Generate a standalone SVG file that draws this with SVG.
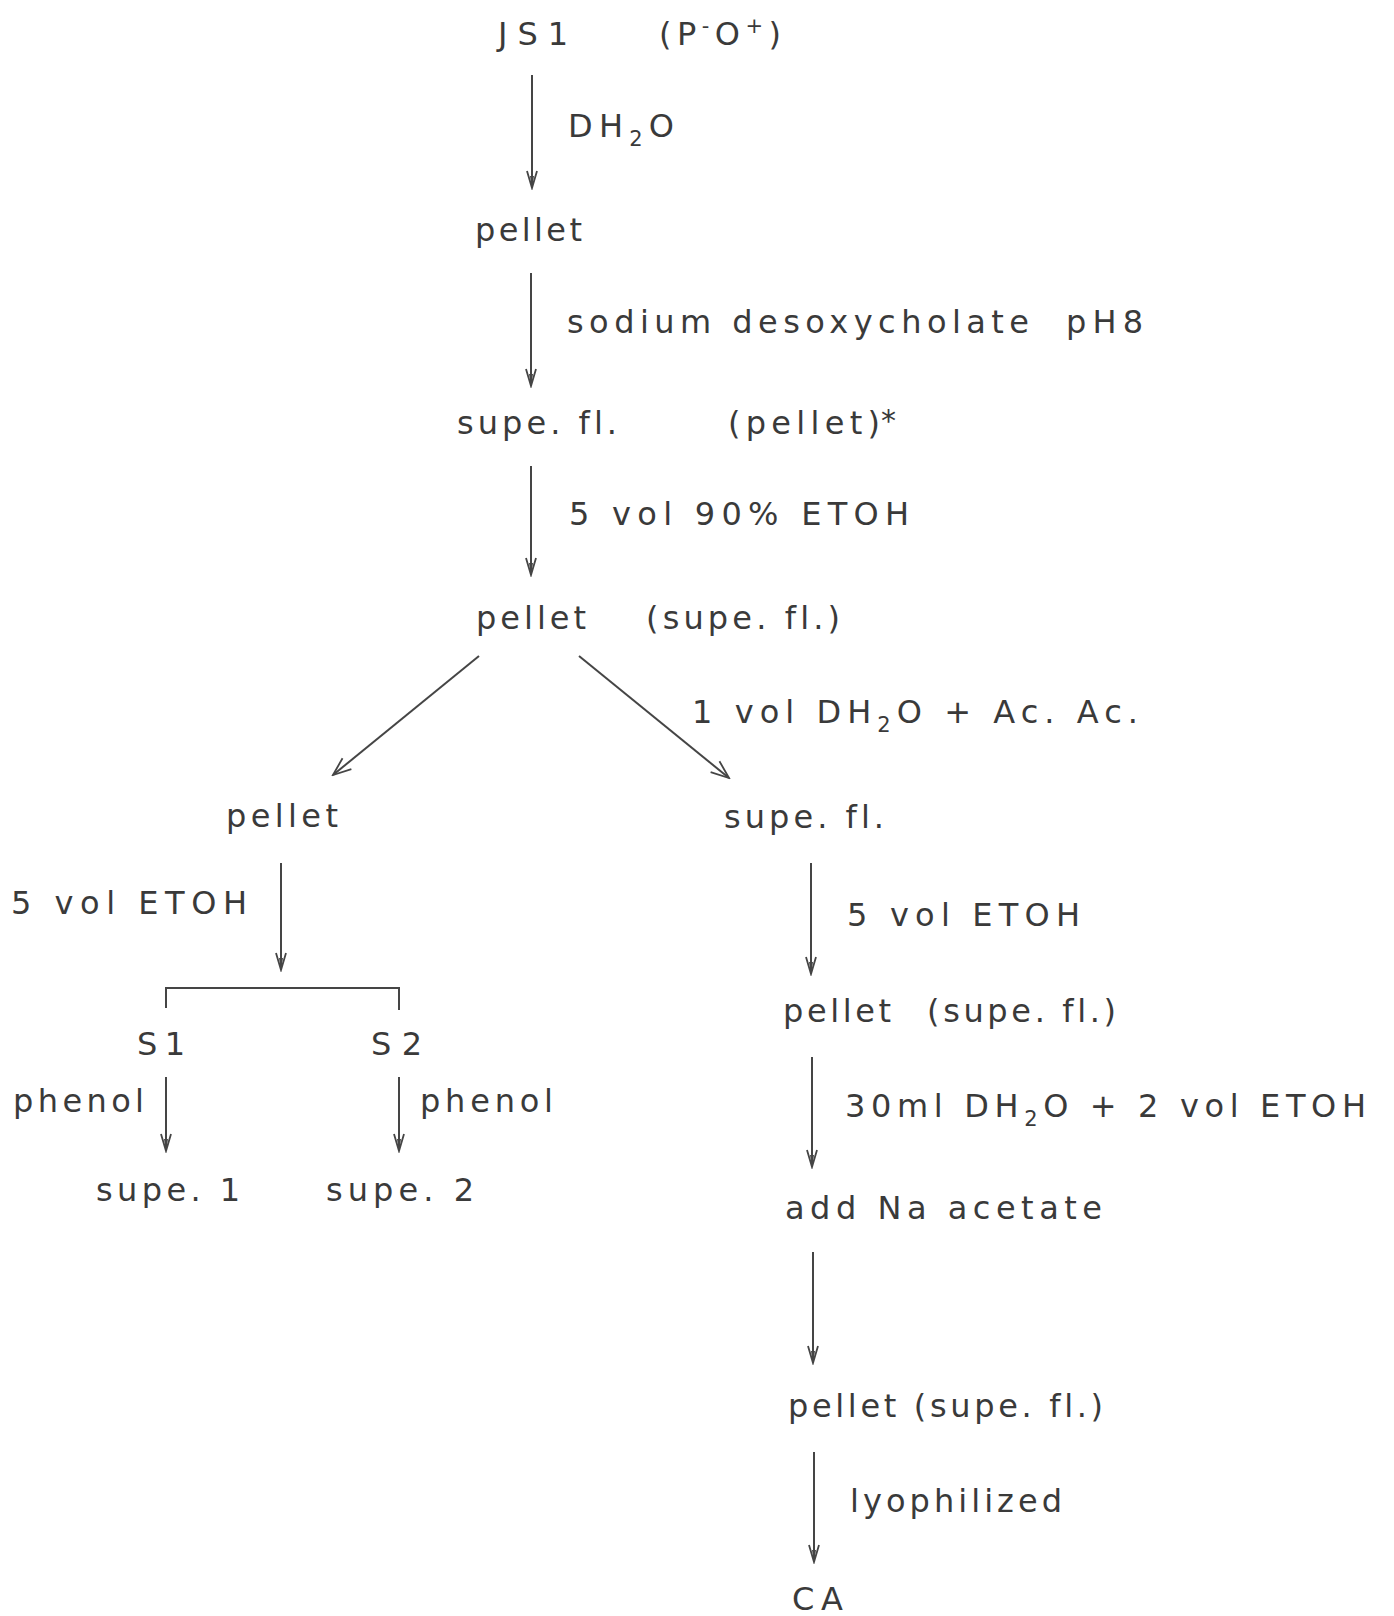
<svg xmlns="http://www.w3.org/2000/svg" width="1394" height="1616" viewBox="0 0 1394 1616">
  <defs>
    <style>
      text { font-family: "DejaVu Sans", "Liberation Sans", Arial, sans-serif; font-size: 32px; fill: #3a3a3a; font-variant-ligatures: none; font-feature-settings: "liga" 0, "clig" 0; }
      .sub { font-size: 21px; }
      .conn { stroke: #454545; stroke-width: 2; fill: none; }
      .arr { marker-end: url(#ah); }
      .darr { marker-end: url(#ahd); }
    </style>
    <marker id="ah" markerUnits="userSpaceOnUse" viewBox="-20 -8 22 16" markerWidth="22" markerHeight="16" refX="0" refY="0" orient="auto">
      <path d="M-17,-5 L0,0 L-17,5" fill="none" stroke="#454545" stroke-width="1.8"/>
      <path d="M-12,-2 L0,0 L-12,2 Z" fill="#454545"/>
    </marker>
    <marker id="ahd" markerUnits="userSpaceOnUse" viewBox="-20 -10 22 20" markerWidth="22" markerHeight="20" refX="0" refY="0" orient="auto">
      <path d="M-18,-7 L0,0 L-18,7" fill="none" stroke="#454545" stroke-width="1.8"/>
    </marker>
  </defs>
  <rect x="0" y="0" width="1394" height="1616" fill="#ffffff"/>

  <g id="connectors">
    <line class="conn arr" x1="532" y1="75" x2="532" y2="188"/>
    <line class="conn arr" x1="531" y1="273" x2="531" y2="386"/>
    <line class="conn arr" x1="531" y1="466" x2="531" y2="575"/>
    <line class="conn darr" x1="479" y1="656" x2="333" y2="775"/>
    <line class="conn darr" x1="579" y1="656" x2="729" y2="778"/>
    <line class="conn arr" x1="281" y1="863" x2="281" y2="970"/>
    <path class="conn" d="M166,1008 V988 H399 V1010"/>
    <line class="conn arr" x1="166" y1="1077" x2="166" y2="1151"/>
    <line class="conn arr" x1="399" y1="1077" x2="399" y2="1151"/>
    <line class="conn arr" x1="811" y1="863" x2="811" y2="974"/>
    <line class="conn arr" x1="812" y1="1057" x2="812" y2="1167"/>
    <line class="conn arr" x1="813" y1="1252" x2="813" y2="1363"/>
    <line class="conn arr" x1="814" y1="1452" x2="814" y2="1562"/>
  </g>

  <g id="labels">
    <text x="568" y="137" textLength="106" lengthAdjust="spacing">DH<tspan class="sub" dy="9">2</tspan><tspan dy="-9">O</tspan></text>
    <text x="567" y="333"><tspan x="567" textLength="462" lengthAdjust="spacing">sodium desoxycholate</tspan><tspan x="1066" textLength="77" lengthAdjust="spacing">pH8</tspan></text>
    <text x="569" y="525" textLength="340" lengthAdjust="spacing">5 vol 90% ETOH</text>
    <text x="692" y="723" textLength="446" lengthAdjust="spacing">1 vol DH<tspan class="sub" dy="9">2</tspan><tspan dy="-9">O + Ac. Ac.</tspan></text>
    <text x="11" y="914" textLength="236" lengthAdjust="spacing">5 vol ETOH</text>
    <text x="13" y="1112" textLength="131" lengthAdjust="spacing">phenol</text>
    <text x="420" y="1112" textLength="133" lengthAdjust="spacing">phenol</text>
    <text x="847" y="926" textLength="233" lengthAdjust="spacing">5 vol ETOH</text>
    <text x="845" y="1117" textLength="521" lengthAdjust="spacing">30ml DH<tspan class="sub" dy="9">2</tspan><tspan dy="-9">O + 2 vol ETOH</tspan></text>
    <text x="850" y="1512" textLength="212" lengthAdjust="spacing">lyophilized</text>
  </g>

  <g id="node-js1">
    <text x="498" y="45" textLength="70" lengthAdjust="spacing">JS1</text>
    <text x="659" y="45" textLength="122" lengthAdjust="spacing">(P<tspan class="sub" dy="-12">-</tspan><tspan dy="12">O</tspan><tspan class="sub" dy="-12">+</tspan><tspan dy="12">)</tspan></text>
  </g>
  <g id="node-pellet-1">
    <text x="475" y="241" textLength="107" lengthAdjust="spacing">pellet</text>
  </g>
  <g id="node-supe-fl-1">
    <text x="457" y="434" textLength="160" lengthAdjust="spacing">supe. fl.</text>
    <text x="728" y="434" textLength="152" lengthAdjust="spacing">(pellet)</text>
    <text x="881" y="431" style="font-size:30px">*</text>
  </g>
  <g id="node-pellet-2">
    <text x="476" y="629" textLength="110" lengthAdjust="spacing">pellet</text>
    <text x="646" y="629" textLength="194" lengthAdjust="spacing">(supe. fl.)</text>
  </g>
  <g id="node-pellet-left">
    <text x="226" y="827" textLength="112" lengthAdjust="spacing">pellet</text>
  </g>
  <g id="node-supe-fl-right">
    <text x="724" y="828" textLength="160" lengthAdjust="spacing">supe. fl.</text>
  </g>
  <g id="node-s1">
    <text x="137" y="1055" textLength="48" lengthAdjust="spacing">S1</text>
  </g>
  <g id="node-s2">
    <text x="371" y="1055" textLength="51" lengthAdjust="spacing">S2</text>
  </g>
  <g id="node-supe-1">
    <text x="96" y="1201" textLength="144" lengthAdjust="spacing">supe. 1</text>
  </g>
  <g id="node-supe-2">
    <text x="326" y="1201" textLength="148" lengthAdjust="spacing">supe. 2</text>
  </g>
  <g id="node-pellet-3">
    <text x="783" y="1022" textLength="108" lengthAdjust="spacing">pellet</text>
    <text x="927" y="1022" textLength="189" lengthAdjust="spacing">(supe. fl.)</text>
  </g>
  <g id="node-add-na-acetate">
    <text x="785" y="1219" textLength="317" lengthAdjust="spacing">add Na acetate</text>
  </g>
  <g id="node-pellet-4">
    <text x="788" y="1417" textLength="315" lengthAdjust="spacing">pellet (supe. fl.)</text>
  </g>
  <g id="node-ca">
    <text x="792" y="1610" textLength="51" lengthAdjust="spacing">CA</text>
  </g>
</svg>
